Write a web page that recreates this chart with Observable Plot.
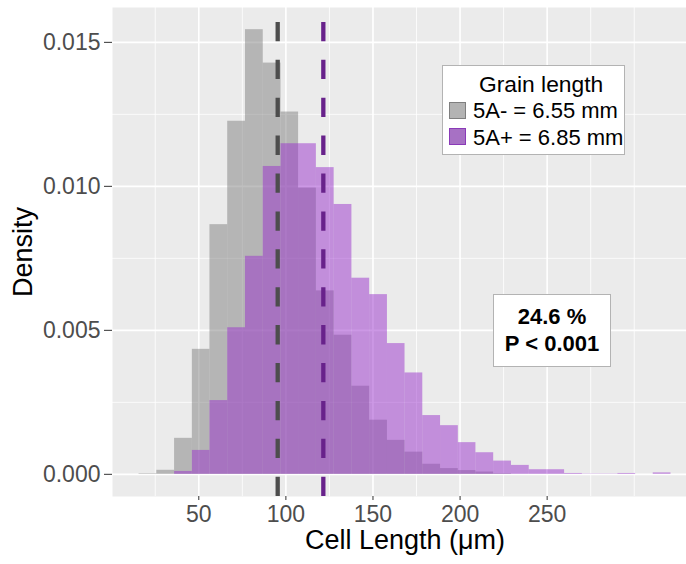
<!DOCTYPE html>
<html><head><meta charset="utf-8">
<script src="https://cdn.jsdelivr.net/npm/d3@7"></script>
<script src="https://cdn.jsdelivr.net/npm/@observablehq/plot@0.6"></script>
<style>
body{margin:0;background:#fff;font-family:"Liberation Sans",Arial,sans-serif;}
#wrap{position:relative;width:686px;height:564px;overflow:hidden;}
#wrap svg{position:absolute;left:0;top:0;}
.box{position:absolute;background:#fff;border:1.5px solid #b3b3b3;box-sizing:border-box;}
.t{position:absolute;font-size:22px;line-height:22px;white-space:nowrap;color:#000;}
.key{position:absolute;width:17px;height:17px;box-sizing:border-box;}
</style></head><body><div id="wrap"></div>
<script>
// histogram bin edges (µm)
const binEdges = [15.7,25.9,36.1,46.3,56.4,66.6,76.8,87.0,97.2,107.3,117.5,127.7,137.9,148.1,158.3,168.4,178.6,188.8,199.0,209.1,219.3,229.5,239.7,249.9,260.0,270.2,280.4,290.6,300.8,310.9,321.1];
// density per bin, 5A- (grey)
const density5Aminus = [0.00002,0.00014,0.00125,0.00434,0.00867,0.01226,0.01544,0.01428,0.01258,0.00994,0.00637,0.00483,0.00306,0.00188,0.00118,0.00077,0.00035,0.00020,0.00013,0.00008,0.00002,0,0,0,0,0,0,0,0,0];
// density per bin, 5A+ (purple)
const density5Aplus = [0,0,0.00010,0.00083,0.00256,0.00509,0.00757,0.01069,0.01148,0.01148,0.01065,0.00937,0.00681,0.00624,0.00454,0.00352,0.00204,0.00169,0.00110,0.00075,0.00046,0.00031,0.00016,0.00016,0.00003,0.00001,0.00001,0.00003,0,0.00005];
const groupLabels = ["5A- = 6.55 mm","5A+ = 6.85 mm"];
const groupColors = ["#7f7f7f","#9932cc"];
const meanColors = ["#4d4d4d","#68228b"];
const meanLength = [95.3, 121.5];
const xTicks = [50,100,150,200,250];
const xMinor = [25,75,125,175,225,275,300];
const yTicks = [0,0.005,0.010,0.015];
const yMinor = [0.0025,0.0075,0.0125];
const xDomain = [0.46,330];
const yDomain = [-0.00077,0.01621];

const toBins = vals => vals.map((d,i)=>({x1:binEdges[i],x2:binEdges[i+1],y:d})).filter(d=>d.y>0);

const chart = Plot.plot({
  width:686, height:564,
  marginLeft:112, marginRight:0, marginTop:7, marginBottom:68,
  style:{fontFamily:'"Liberation Sans", Arial, sans-serif', fontSize:"23px", background:"transparent"},
  x:{domain:xDomain},
  y:{domain:yDomain},
  marks:[
    Plot.frame({fill:"#ebebeb", stroke:null}),
    Plot.ruleX(xMinor,{stroke:"#fff",strokeWidth:0.8}),
    Plot.ruleY(yMinor,{stroke:"#fff",strokeWidth:0.8}),
    Plot.ruleX(xTicks,{stroke:"#fff",strokeWidth:1.6}),
    Plot.ruleY(yTicks,{stroke:"#fff",strokeWidth:1.6}),
    Plot.rect(toBins(density5Aminus),{x1:"x1",x2:"x2",y1:0,y2:"y",fill:groupColors[0],fillOpacity:0.5}),
    Plot.rect(toBins(density5Aplus),{x1:"x1",x2:"x2",y1:0,y2:"y",fill:groupColors[1],fillOpacity:0.5}),
    Plot.ruleX([meanLength[0]],{y1:yDomain[0],y2:yDomain[1],stroke:meanColors[0],strokeWidth:4.3,strokeDasharray:"19.3,18.6"}),
    Plot.ruleX([meanLength[1]],{y1:yDomain[0],y2:yDomain[1],stroke:meanColors[1],strokeWidth:4.3,strokeDasharray:"19.3,18.6"}),
    Plot.axisX(xTicks,{tickSize:4,tickPadding:5,label:null,stroke:"#333",fill:"#4d4d4d",fontSize:23}),
    Plot.axisY(yTicks,{tickSize:8,tickPadding:4,tickFormat:d3.format(".3f"),label:null,stroke:"#333",fill:"#4d4d4d",fontSize:23}),
    Plot.text(["Cell Length (μm)"],{frameAnchor:"bottom",lineAnchor:"middle",textAnchor:"middle",dx:5.5,dy:44,fontSize:27,fill:"#000"}),
    Plot.text(["Density"],{frameAnchor:"left",lineAnchor:"middle",textAnchor:"middle",dx:-88.7,rotate:-90,fontSize:27,fill:"#000"})
  ]
});
const wrap = document.getElementById("wrap");
wrap.appendChild(chart);

// legend
const leg = document.createElement("div");
leg.className="box";
leg.style.cssText="left:442px;top:65px;width:183px;height:90px;";
wrap.appendChild(leg);
const addText=(txt,left,top,extra)=>{const s=document.createElement("div");s.className="t";s.textContent=txt;s.style.left=left+"px";s.style.top=top+"px";if(extra)s.style.cssText+=extra;wrap.appendChild(s);return s;};
addText("Grain length",479,73,"font-size:22.8px;");
const keyTops=[102,128];
const keyBorders=["#7f7f7f","#8a3ab8"];
const keyFills=["#b3b3b3","#a771c4"];
groupLabels.forEach((lab,i)=>{
  const k=document.createElement("div");k.className="key";
  k.style.cssText+=`left:449px;top:${keyTops[i]}px;background:${keyFills[i]};border:1.5px solid ${keyBorders[i]};`;
  wrap.appendChild(k);
  addText(lab,473,[100,126.6][i]);
});
// annotation box
const ann=document.createElement("div");ann.className="box";
ann.style.cssText="left:493px;top:294px;width:118px;height:73px;";
wrap.appendChild(ann);
const annLines=["24.6 %","P < 0.001"];
annLines.forEach((l,i)=>{
  addText(l,493,[305.5,333][i],"width:118px;text-align:center;font-weight:bold;");
});
</script>
</body></html>
